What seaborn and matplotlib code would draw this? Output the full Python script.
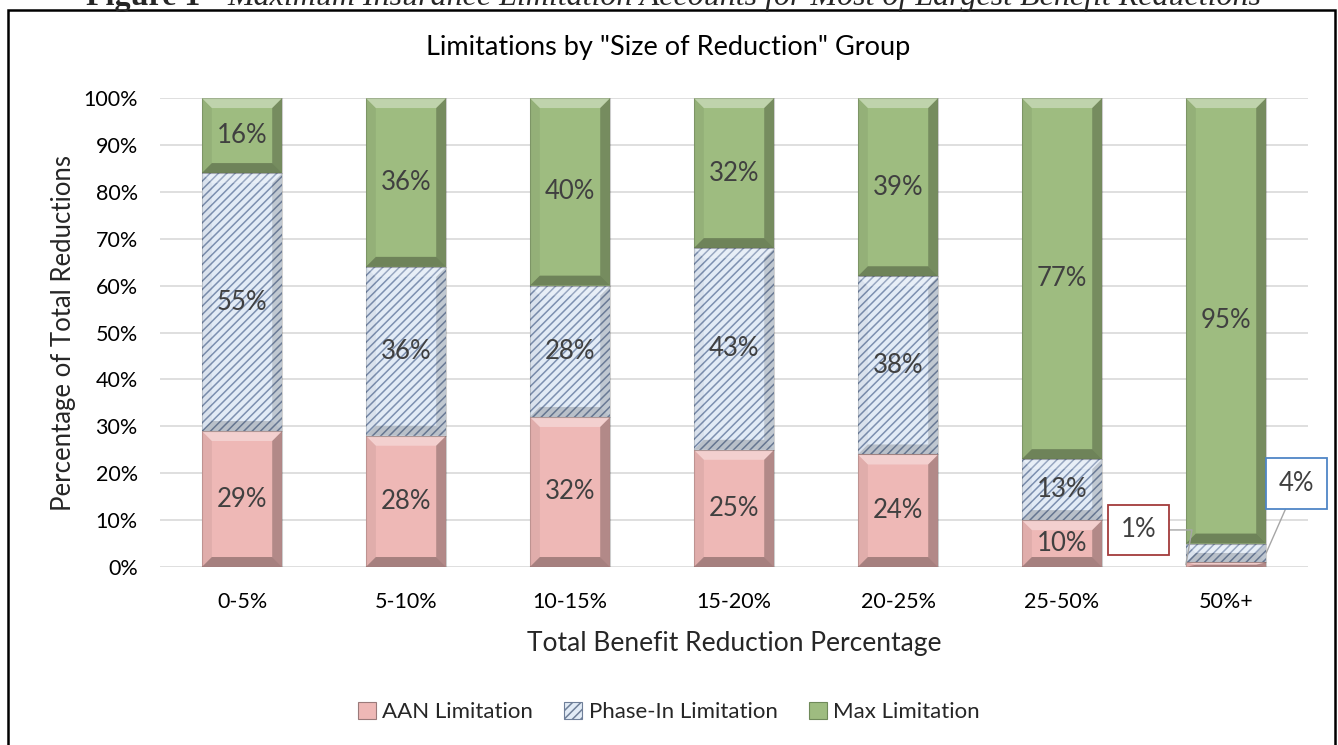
import numpy as np
import pandas as pd
import seaborn as sns
import matplotlib.pyplot as plt
from matplotlib.patches import Polygon, Rectangle, Patch

# ---------------- data ----------------
categories = ["0-5%", "5-10%", "10-15%", "15-20%", "20-25%", "25-50%", "50%+"]
aan = [29, 28, 32, 25, 24, 10, 1]
phase_in = [55, 36, 28, 43, 38, 13, 4]
max_lim = [16, 36, 40, 32, 39, 77, 95]
series_names = ["AAN Limitation", "Phase-In Limitation", "Max Limitation"]
yticks = list(range(0, 101, 10))

# ---------------- style ----------------
sns.set_theme(style="white")
plt.rcParams['font.family'] = ['Lato', 'DejaVu Sans']
plt.rcParams['hatch.linewidth'] = 1.1

fig = plt.figure(figsize=(13.38, 7.45), dpi=100)
ax = fig.add_axes([0.1196, 0.2389, 0.858, 0.6295])

df = pd.DataFrame({"cat": categories, "AAN": aan, "Phase": phase_in, "Max": max_lim})
bottoms = [np.zeros(len(aan)), np.array(aan, float), np.array(aan, float) + np.array(phase_in, float)]
cols = ["AAN", "Phase", "Max"]
colors = ["#EEB8B6", "#E2EBF6", "#9EBC80"]

for col, b, c in zip(cols, bottoms, colors):
    sns.barplot(data=df, x="cat", y=col, bottom=b, color=c, width=0.49,
                saturation=1, ax=ax, zorder=3, linewidth=0, edgecolor=c)

ax.set_ylim(0, 100)
ax.set_xlim(-0.5, len(categories) - 0.5)

# hatch for phase-in
for p in ax.containers[1]:
    p.set_hatch("////")
    p.set_edgecolor("#7C90B0")
    p.set_linewidth(0)

# grid / axes
ax.yaxis.set_major_locator(plt.FixedLocator(yticks))
ax.set_yticklabels([f"{v}%" for v in yticks])
ax.grid(axis="y", color="#D9D9D9", linewidth=1.2, zorder=0)
ax.set_axisbelow(True)
for s in ax.spines.values():
    s.set_visible(False)
ax.tick_params(axis="both", length=0, labelsize=15.5, colors="#000000")
ax.tick_params(axis="y", pad=16)
ax.tick_params(axis="x", pad=18)
ax.set_xlabel("Total Benefit Reduction Percentage", fontsize=19, labelpad=14)
ax.set_ylabel("Percentage of Total Reductions", fontsize=18.5, labelpad=5)

# bevel effect
fig.canvas.draw()
def px_to_data(dxp, dyp):
    inv = ax.transData.inverted()
    a = inv.transform((0, 0))
    b = inv.transform((dxp, dyp))
    return abs(b[0] - a[0]), abs(b[1] - a[1])

dx_unit, dy_unit = px_to_data(10, 10)

def bevel(rect, strength=1.0):
    x0 = rect.get_x(); w = rect.get_width()
    y0 = rect.get_y(); y1 = min(y0 + rect.get_height(), 100)
    x1 = x0 + w
    e = min(dy_unit, (y1 - y0) / 2)
    d = dx_unit
    polys = [
        ([(x0, y1), (x1, y1), (x1 - d, y1 - e), (x0 + d, y1 - e)], "white", 0.35),
        ([(x0, y0), (x1, y0), (x1 - d, y0 + e), (x0 + d, y0 + e)], "black", 0.30),
        ([(x0, y0), (x0 + d, y0 + e), (x0 + d, y1 - e), (x0, y1)], "black", 0.06),
        ([(x1, y0), (x1 - d, y0 + e), (x1 - d, y1 - e), (x1, y1)], "black", 0.25),
    ]
    for pts, c, a in polys:
        ax.add_patch(Polygon(pts, closed=True, facecolor=c, alpha=a * strength,
                             edgecolor="none", zorder=4))
    ax.add_patch(Rectangle((x0, y0), w, y1 - y0, fill=False, edgecolor="#000000",
                           alpha=0.15, linewidth=0.8, zorder=4))

for k, cont in enumerate(ax.containers[:3]):
    for p in cont:
        bevel(p, 0.6 if k == 1 else 1.0)

# labels
label_color = "#404040"
series_vals = [aan, phase_in, max_lim]
for k, cont in enumerate(ax.containers[:3]):
    for i, p in enumerate(cont):
        v = series_vals[k][i]
        y0 = p.get_y(); y1 = min(y0 + p.get_height(), 100)
        xc = p.get_x() + p.get_width() / 2
        if v >= 5:
            ax.text(xc, (y0 + y1) / 2, f"{v}%", ha="center", va="center",
                    fontsize=18.5, color=label_color, zorder=6)

# callouts for small values in the last group
last = len(categories) - 1
p_aan = ax.containers[0][last]
p_ph = ax.containers[1][last]
ax.annotate(f"{aan[last]}%", xy=(p_aan.get_x(), p_aan.get_y() + p_aan.get_height() / 2),
            xytext=(-34, 25), textcoords="offset points", ha="center", va="center",
            fontsize=18.5, color=label_color, zorder=7,
            bbox=dict(boxstyle="square,pad=0.5", facecolor="white", edgecolor="#A33B3B", linewidth=1.3),
            arrowprops=dict(arrowstyle="-", color="#A6A6A6", linewidth=1.0,
                            connectionstyle="angle,angleA=0,angleB=80,rad=0", shrinkA=0, shrinkB=0))
ax.annotate(f"{phase_in[last]}%", xy=(p_ph.get_x() + p_ph.get_width(), p_ph.get_y() + p_ph.get_height() / 2),
            xytext=(22, 50), textcoords="offset points", ha="center", va="center",
            fontsize=18.5, color=label_color, zorder=7,
            bbox=dict(boxstyle="square,pad=0.5", facecolor="white", edgecolor="#4F86C6", linewidth=1.3),
            arrowprops=dict(arrowstyle="-", color="#A6A6A6", linewidth=1.0, shrinkA=0, shrinkB=0))

# title
fig.text(0.499, 1 - 48 / 745, 'Limitations by "Size of Reduction" Group', ha="center", va="center",
         fontsize=19.5, color="#000000")

# legend
handles = [Patch(facecolor=colors[0], edgecolor="#9A7A7A", linewidth=0.8),
           Patch(facecolor=colors[1], edgecolor="#6F7F99", hatch="////", linewidth=0.8),
           Patch(facecolor=colors[2], edgecolor="#6F8A5A", linewidth=0.8)]
fig.legend(handles, series_names, loc="center", bbox_to_anchor=(0.5, 1 - 712 / 745), ncol=3,
           frameon=False, fontsize=16, handlelength=0.8, handleheight=0.8, handletextpad=0.3,
           columnspacing=1.4)

# outer border
fig.add_artist(Rectangle((8 / 1338, -0.02), (1335 - 8) / 1338, 1 - 9.5 / 745 + 0.02,
                         transform=fig.transFigure, fill=False, edgecolor="black", linewidth=1.8))

# clipped caption at top (only its lower part shows, as in the source)
xsplit = 227 / 1338
fig.text(xsplit, 1 - 5 / 745, "Maximum Insurance Limitation Accounts for Most of Largest Benefit Reductions",
         ha="left", va="baseline", fontsize=23, style="italic", family="Liberation Serif")
fig.text(xsplit - 0.006, 1 - 5 / 745, "Figure 1 -", ha="right", va="baseline", fontsize=23,
         weight="bold", family="Liberation Serif")

fig.savefig("out.png", dpi=100)
